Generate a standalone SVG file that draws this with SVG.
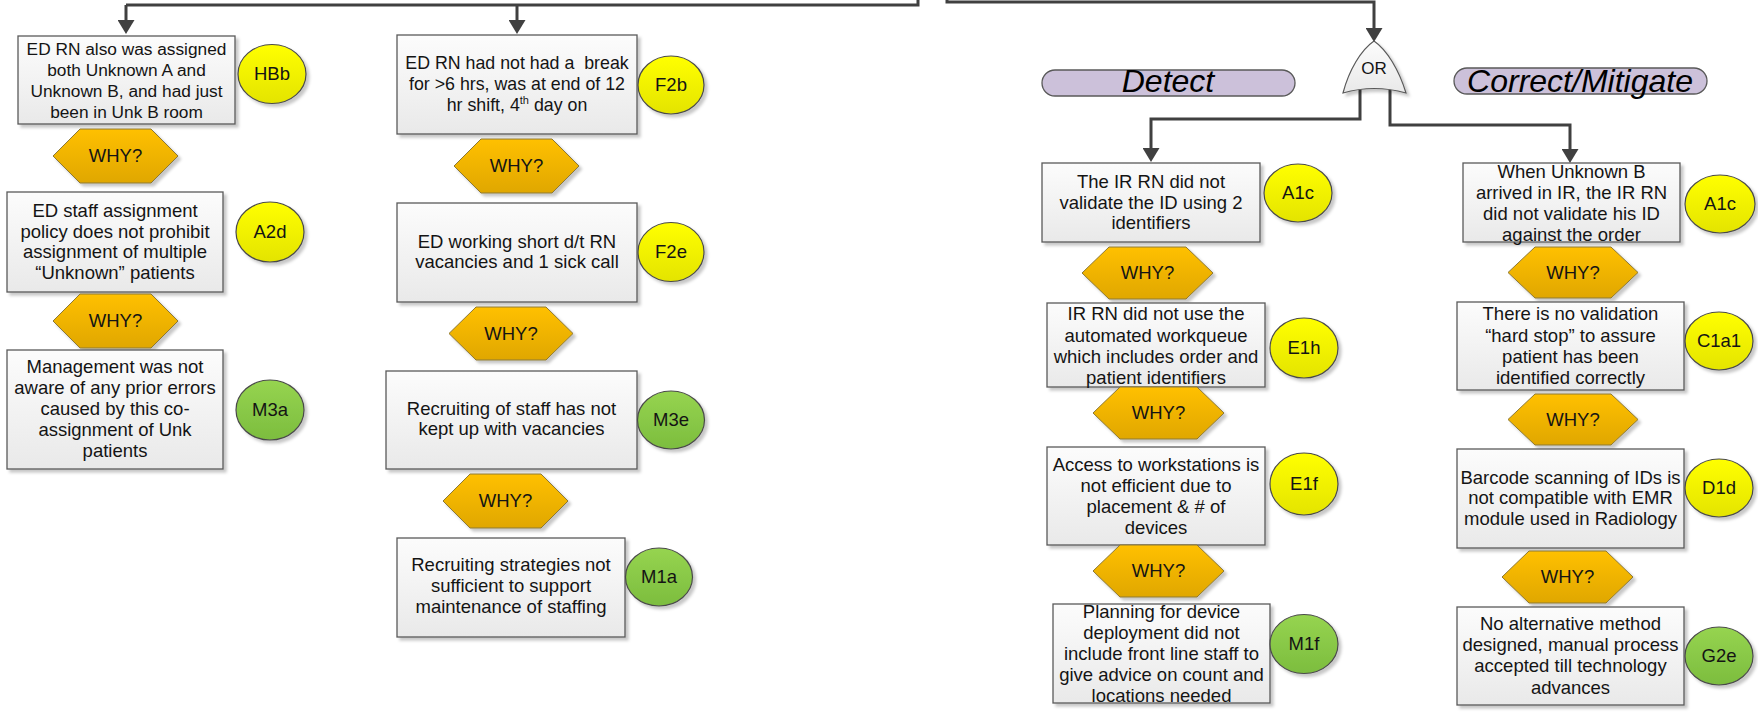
<svg xmlns="http://www.w3.org/2000/svg" width="1758" height="714" viewBox="0 0 1758 714">
<defs>
<style>
.box{fill:url(#gBox);stroke:#595959;stroke-width:1.3;filter:url(#sh)}
.why{fill:url(#gWhy);stroke:#8c7834;stroke-width:1;filter:url(#sh)}
.yel{fill:url(#gYel);stroke:#4a4a4a;stroke-width:1.2;filter:url(#sh)}
.grn{fill:url(#gGrn);stroke:#4a4a4a;stroke-width:1.2;filter:url(#sh)}
.pill{fill:#ccc1da;stroke:#595959;stroke-width:1.3}
.gate{fill:url(#gBox);stroke:#595959;stroke-width:1.2;filter:url(#sh)}
.t{font-family:"Liberation Sans",Arial,sans-serif;font-size:18.5px;fill:#141414;text-anchor:middle}
.s{font-size:17.3px}
.m{font-size:17.8px}
.h{font-family:"Liberation Sans",Arial,sans-serif;font-size:32px;font-style:italic;fill:#000;text-anchor:middle}
.c{fill:none;stroke:#404040;stroke-width:3;stroke-linejoin:miter;marker-end:url(#arr)}
.cn{fill:none;stroke:#404040;stroke-width:3}
</style>
<linearGradient id="gBox" x1="0" y1="0" x2="0" y2="1"><stop offset="0" stop-color="#fcfcfc"/><stop offset="1" stop-color="#e9e9e9"/></linearGradient>
<linearGradient id="gWhy" x1="0" y1="0" x2="0" y2="1"><stop offset="0" stop-color="#ffc000"/><stop offset="1" stop-color="#e0a700"/></linearGradient>
<linearGradient id="gYel" x1="0" y1="0" x2="0" y2="1"><stop offset="0" stop-color="#ffff00"/><stop offset="1" stop-color="#e4e400"/></linearGradient>
<linearGradient id="gGrn" x1="0" y1="0" x2="0" y2="1"><stop offset="0" stop-color="#96d450"/><stop offset="1" stop-color="#7cbd3e"/></linearGradient>
<filter id="sh" x="-10%" y="-10%" width="125%" height="130%"><feDropShadow dx="3" dy="3" stdDeviation="1.5" flood-color="#000" flood-opacity="0.22"/></filter>
<marker id="arr" markerWidth="14" markerHeight="17" viewBox="0 0 14 17" refX="0" refY="8.5" orient="auto" markerUnits="userSpaceOnUse"><path d="M0,0 L14,8.5 L0,17 Z" fill="#404040"/></marker>
</defs>

<g id="connectors">
<path class="cn" d="M918,0 V5 H126"/>
<path class="c" d="M126,5 V20"/>
<path class="c" d="M517,5 V20"/>
<path class="c" d="M947,0 V2 H1374 V28"/>
<path class="c" d="M1360,88 V119 H1151 V148"/>
<path class="c" d="M1390,88 V125 H1570 V149"/>
</g>

<g id="or-gate">
<path class="gate" d="M1343,93 C1349,70 1361,50 1374,41 C1387,50 1399,70 1406,93 Q1374,84 1343,93 Z"/>
<text class="t" x="1374" y="74" style="font-size:17px">OR</text>
</g>

<g id="label-detect">
<rect class="pill" x="1042" y="70" width="253" height="26" rx="13"/>
<text class="h" x="1168" y="92">Detect</text>
</g>
<g id="label-correct">
<rect class="pill" x="1454" y="68" width="253" height="26" rx="13"/>
<text class="h" x="1580" y="92">Correct/Mitigate</text>
</g>

<!-- Column 1 -->
<g id="n-hbb">
<rect class="box" x="18" y="36" width="217" height="88"/>
<text class="t s" x="126.5" y="55">ED RN also was assigned</text>
<text class="t s" x="126.5" y="76">both Unknown A and</text>
<text class="t s" x="126.5" y="97">Unknown B, and had just</text>
<text class="t s" x="126.5" y="118">been in Unk B room</text>
</g>
<g id="c-hbb"><ellipse class="yel" cx="272" cy="74" rx="34" ry="29.5"/><text class="t" x="272" y="80">HBb</text></g>
<g id="why-1a"><polygon class="why" points="53,156 80,129 151,129 178,156 151,183 80,183"/><text class="t" x="115.5" y="162">WHY?</text></g>
<g id="n-a2d">
<rect class="box" x="7" y="192" width="216" height="100"/>
<text class="t" x="115" y="217">ED staff assignment</text>
<text class="t" x="115" y="238">policy does not prohibit</text>
<text class="t" x="115" y="258">assignment of multiple</text>
<text class="t" x="115" y="279">“Unknown” patients</text>
</g>
<g id="c-a2d"><ellipse class="yel" cx="270" cy="232" rx="34" ry="30"/><text class="t" x="270" y="238">A2d</text></g>
<g id="why-1b"><polygon class="why" points="53,321 80,294 151,294 178,321 151,348 80,348"/><text class="t" x="115.5" y="327">WHY?</text></g>
<g id="n-m3a">
<rect class="box" x="7" y="350" width="216" height="119"/>
<text class="t" x="115" y="373">Management was not</text>
<text class="t" x="115" y="394">aware of any prior errors</text>
<text class="t" x="115" y="415">caused by this co-</text>
<text class="t" x="115" y="436">assignment of Unk</text>
<text class="t" x="115" y="457">patients</text>
</g>
<g id="c-m3a"><ellipse class="grn" cx="270" cy="410" rx="34" ry="30"/><text class="t" x="270" y="416">M3a</text></g>

<!-- Column 2 -->
<g id="n-f2b">
<rect class="box" x="397" y="35" width="240" height="99"/>
<text class="t m" x="517" y="69" xml:space="preserve">ED RN had not had a  break</text>
<text class="t m" x="517" y="90">for &gt;6 hrs, was at end of 12</text>
<text class="t m" x="517" y="111">hr shift, 4<tspan dy="-7" style="font-size:11px">th</tspan><tspan dy="7"> day on</tspan></text>
</g>
<g id="c-f2b"><ellipse class="yel" cx="671" cy="85" rx="33" ry="29"/><text class="t" x="671" y="91">F2b</text></g>
<g id="why-2a"><polygon class="why" points="454,166 481,139 552,139 579,166 552,193 481,193"/><text class="t" x="516.5" y="172">WHY?</text></g>
<g id="n-f2e">
<rect class="box" x="397" y="203" width="240" height="99"/>
<text class="t" x="517" y="248">ED working short d/t RN</text>
<text class="t" x="517" y="268">vacancies and 1 sick call</text>
</g>
<g id="c-f2e"><ellipse class="yel" cx="671" cy="252" rx="33" ry="29.5"/><text class="t" x="671" y="258">F2e</text></g>
<g id="why-2b"><polygon class="why" points="449,333.5 476,307 546,307 573,333.5 546,360 476,360"/><text class="t" x="511" y="339.5">WHY?</text></g>
<g id="n-m3e">
<rect class="box" x="386" y="371" width="251" height="98"/>
<text class="t" x="511.5" y="415">Recruiting of staff has not</text>
<text class="t" x="511.5" y="435">kept up with vacancies</text>
</g>
<g id="c-m3e"><ellipse class="grn" cx="671" cy="420" rx="33.5" ry="29"/><text class="t" x="671" y="426">M3e</text></g>
<g id="why-2c"><polygon class="why" points="443,501 470,474 541,474 568,501 541,528 470,528"/><text class="t" x="505.5" y="507">WHY?</text></g>
<g id="n-m1a">
<rect class="box" x="397" y="538" width="228" height="99"/>
<text class="t" x="511" y="571">Recruiting strategies not</text>
<text class="t" x="511" y="592">sufficient to support</text>
<text class="t" x="511" y="613">maintenance of staffing</text>
</g>
<g id="c-m1a"><ellipse class="grn" cx="659" cy="577" rx="33.5" ry="29"/><text class="t" x="659" y="583">M1a</text></g>

<!-- Detect column -->
<g id="n-a1c-d">
<rect class="box" x="1042" y="163" width="218" height="79"/>
<text class="t" x="1151" y="188">The IR RN did not</text>
<text class="t" x="1151" y="209">validate the ID using 2</text>
<text class="t" x="1151" y="229">identifiers</text>
</g>
<g id="c-a1c-d"><ellipse class="yel" cx="1298" cy="193" rx="34" ry="29"/><text class="t" x="1298" y="199">A1c</text></g>
<g id="why-3a"><polygon class="why" points="1082,273 1109,247 1186,247 1213,273 1186,299 1109,299"/><text class="t" x="1147.5" y="279">WHY?</text></g>
<g id="n-e1h">
<rect class="box" x="1047" y="303" width="218" height="84"/>
<text class="t" x="1156" y="320">IR RN did not use the</text>
<text class="t" x="1156" y="342">automated workqueue</text>
<text class="t" x="1156" y="363">which includes order and</text>
<text class="t" x="1156" y="384">patient identifiers</text>
</g>
<g id="c-e1h"><ellipse class="yel" cx="1304" cy="348" rx="34" ry="30"/><text class="t" x="1304" y="354">E1h</text></g>
<g id="why-3b"><polygon class="why" points="1093,413 1120,387 1197,387 1224,413 1197,439 1120,439"/><text class="t" x="1158.5" y="419">WHY?</text></g>
<g id="n-e1f">
<rect class="box" x="1047" y="447" width="218" height="98"/>
<text class="t" x="1156" y="471">Access to workstations is</text>
<text class="t" x="1156" y="492">not efficient due to</text>
<text class="t" x="1156" y="513">placement &amp; # of</text>
<text class="t" x="1156" y="534">devices</text>
</g>
<g id="c-e1f"><ellipse class="yel" cx="1304" cy="484" rx="34" ry="31"/><text class="t" x="1304" y="490">E1f</text></g>
<g id="why-3c"><polygon class="why" points="1093,571 1120,545 1197,545 1224,571 1197,597 1120,597"/><text class="t" x="1158.5" y="577">WHY?</text></g>
<g id="n-m1f">
<rect class="box" x="1053" y="604" width="217" height="99"/>
<text class="t" x="1161.5" y="618">Planning for device</text>
<text class="t" x="1161.5" y="639">deployment did not</text>
<text class="t" x="1161.5" y="660">include front line staff to</text>
<text class="t" x="1161.5" y="681">give advice on count and</text>
<text class="t" x="1161.5" y="702">locations needed</text>
</g>
<g id="c-m1f"><ellipse class="grn" cx="1304" cy="644" rx="34" ry="29.5"/><text class="t" x="1304" y="650">M1f</text></g>

<!-- Correct/Mitigate column -->
<g id="n-a1c-c">
<rect class="box" x="1463" y="163" width="217" height="79"/>
<text class="t" x="1571.5" y="178">When Unknown B</text>
<text class="t" x="1571.5" y="199">arrived in IR, the IR RN</text>
<text class="t" x="1571.5" y="220">did not validate his ID</text>
<text class="t" x="1571.5" y="241">against the order</text>
</g>
<g id="c-a1c-c"><ellipse class="yel" cx="1720" cy="204" rx="35" ry="29"/><text class="t" x="1720" y="210">A1c</text></g>
<g id="why-4a"><polygon class="why" points="1508,272.5 1535,247 1611,247 1638,272.5 1611,298 1535,298"/><text class="t" x="1573" y="278.5">WHY?</text></g>
<g id="n-c1a1">
<rect class="box" x="1457" y="302" width="227" height="88"/>
<text class="t" x="1570.5" y="320">There is no validation</text>
<text class="t" x="1570.5" y="342">“hard stop” to assure</text>
<text class="t" x="1570.5" y="363">patient has been</text>
<text class="t" x="1570.5" y="384">identified correctly</text>
</g>
<g id="c-c1a1"><ellipse class="yel" cx="1719" cy="341" rx="34" ry="29"/><text class="t" x="1719" y="347">C1a1</text></g>
<g id="why-4b"><polygon class="why" points="1508,419.5 1535,394 1611,394 1638,419.5 1611,445 1535,445"/><text class="t" x="1573" y="425.5">WHY?</text></g>
<g id="n-d1d">
<rect class="box" x="1457" y="449" width="227" height="99"/>
<text class="t" x="1570.5" y="484">Barcode scanning of IDs is</text>
<text class="t" x="1570.5" y="504">not compatible with EMR</text>
<text class="t" x="1570.5" y="525">module used in Radiology</text>
</g>
<g id="c-d1d"><ellipse class="yel" cx="1719" cy="488" rx="34" ry="29"/><text class="t" x="1719" y="494">D1d</text></g>
<g id="why-4c"><polygon class="why" points="1502,577 1529,551 1606,551 1633,577 1606,603 1529,603"/><text class="t" x="1567.5" y="583">WHY?</text></g>
<g id="n-g2e">
<rect class="box" x="1457" y="607" width="227" height="98"/>
<text class="t" x="1570.5" y="630">No alternative method</text>
<text class="t" x="1570.5" y="651">designed, manual process</text>
<text class="t" x="1570.5" y="672">accepted till technology</text>
<text class="t" x="1570.5" y="694">advances</text>
</g>
<g id="c-g2e"><ellipse class="grn" cx="1719" cy="656" rx="34" ry="29"/><text class="t" x="1719" y="662">G2e</text></g>
</svg>
